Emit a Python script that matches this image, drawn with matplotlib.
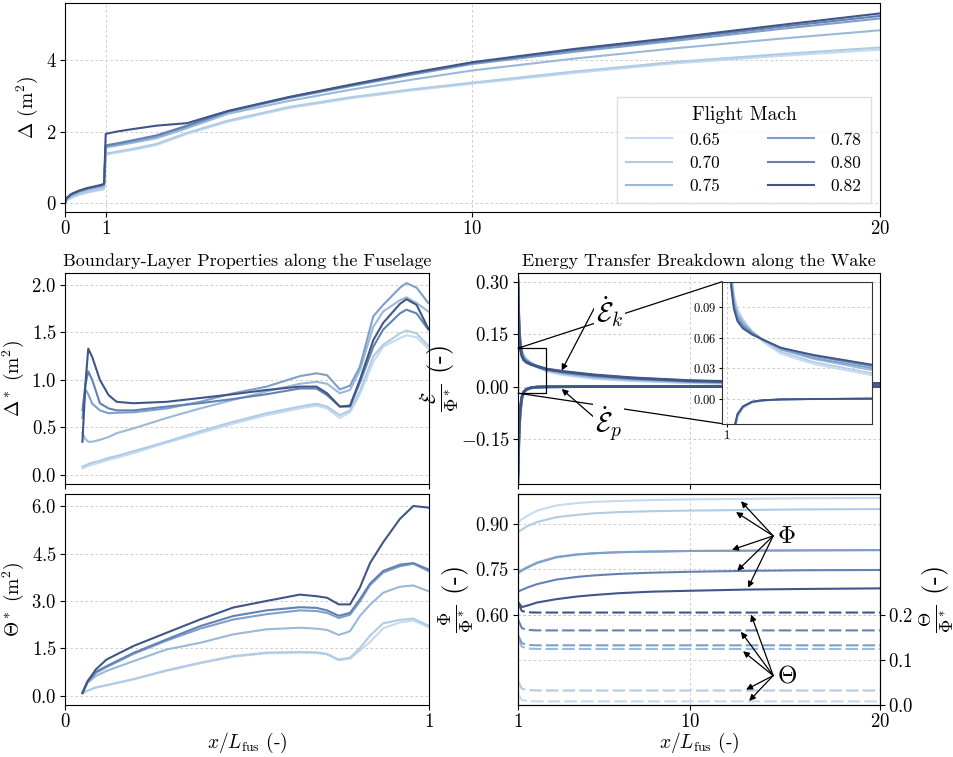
import numpy as np
import matplotlib.pyplot as plt
from matplotlib.patches import Rectangle, ConnectionPatch

plt.rcParams['font.family'] = 'serif'
plt.rcParams['font.serif'] = ['cmr10']
plt.rcParams['mathtext.fontset'] = 'cm'
plt.rcParams['axes.formatter.use_mathtext'] = True
plt.rcParams['axes.unicode_minus'] = True

mach = ['0.65', '0.70', '0.75', '0.78', '0.80', '0.82']
colors = ['#c6dbef', '#b0cce4', '#98b9da', '#7f9fc8', '#6381b3', '#3f5686']

# --- total Delta along fuselage + wake
x_all = [0, 0.03, 0.15, 0.35, 0.55, 0.75, 0.9, 0.96, 1.0, 1.3, 1.7, 2.25, 3.0, 4.0,
         5.5, 7.0, 8.5, 10, 12.5, 15, 17.5, 20]
delta = {
    '0.65': [0, 0.07, 0.15, 0.24, 0.30, 0.35, 0.38, 0.41, 1.36, 1.42, 1.50, 1.63, 1.94, 2.28, 2.66, 2.93, 3.15, 3.34, 3.64, 3.91, 4.11, 4.29],
    '0.70': [0, 0.08, 0.17, 0.26, 0.32, 0.37, 0.40, 0.43, 1.39, 1.45, 1.53, 1.66, 1.97, 2.31, 2.69, 2.96, 3.18, 3.37, 3.68, 3.95, 4.16, 4.35],
    '0.75': [0, 0.10, 0.21, 0.31, 0.38, 0.43, 0.46, 0.49, 1.56, 1.62, 1.70, 1.82, 2.10, 2.50, 2.86, 3.17, 3.45, 3.71, 4.04, 4.33, 4.59, 4.83],
    '0.78': [0, 0.12, 0.24, 0.34, 0.41, 0.46, 0.50, 0.53, 1.59, 1.65, 1.74, 1.87, 2.15, 2.55, 2.94, 3.27, 3.59, 3.89, 4.23, 4.54, 4.86, 5.16],
    '0.80': [0, 0.13, 0.25, 0.35, 0.42, 0.47, 0.51, 0.54, 1.62, 1.68, 1.77, 1.90, 2.17, 2.57, 2.96, 3.29, 3.62, 3.92, 4.28, 4.59, 4.92, 5.23],
    '0.82': [0, 0.14, 0.26, 0.36, 0.43, 0.48, 0.52, 0.55, 1.94, 2.01, 2.08, 2.17, 2.24, 2.58, 2.97, 3.31, 3.64, 3.94, 4.31, 4.63, 4.97, 5.30],
}

# --- boundary layer along fuselage
x_fus = [0.048, 0.056, 0.064, 0.075, 0.096, 0.12, 0.142, 0.188, 0.279, 0.371, 0.462, 0.554,
         0.645, 0.691, 0.72, 0.755, 0.783, 0.81, 0.847, 0.874, 0.92, 0.938, 0.966, 0.998]
delta_star = {
    '0.65': [0.07, 0.08, 0.095, 0.11, 0.13, 0.16, 0.18, 0.23, 0.34, 0.44, 0.54, 0.63, 0.70, 0.73, 0.70, 0.60, 0.66, 0.85, 1.19, 1.35, 1.44, 1.47, 1.45, 1.33],
    '0.70': [0.09, 0.10, 0.115, 0.13, 0.15, 0.18, 0.20, 0.25, 0.35, 0.46, 0.56, 0.65, 0.72, 0.75, 0.72, 0.63, 0.68, 0.88, 1.25, 1.37, 1.49, 1.52, 1.49, 1.36],
    '0.75': [0.44, 0.38, 0.35, 0.35, 0.37, 0.40, 0.44, 0.49, 0.60, 0.70, 0.79, 0.88, 0.96, 0.98, 0.96, 0.86, 0.895, 1.10, 1.56, 1.72, 1.84, 1.87, 1.81, 1.72],
    '0.78': [0.60, 0.90, 0.85, 0.75, 0.68, 0.65, 0.655, 0.66, 0.70, 0.77, 0.86, 0.93, 1.04, 1.07, 1.05, 0.90, 0.94, 1.14, 1.67, 1.79, 1.97, 2.02, 1.97, 1.81],
    '0.80': [0.68, 0.95, 1.09, 1.00, 0.755, 0.70, 0.68, 0.68, 0.72, 0.755, 0.80, 0.85, 0.91, 0.91, 0.84, 0.72, 0.72, 0.97, 1.35, 1.53, 1.70, 1.74, 1.70, 1.53],
    '0.82': [0.35, 0.95, 1.33, 1.24, 1.00, 0.84, 0.77, 0.755, 0.77, 0.81, 0.85, 0.895, 0.93, 0.93, 0.86, 0.72, 0.73, 1.00, 1.42, 1.60, 1.80, 1.85, 1.79, 1.54],
}

x_fus2 = [0.048, 0.062, 0.085, 0.114, 0.188, 0.279, 0.371, 0.462, 0.554, 0.645, 0.691, 0.72,
          0.752, 0.783, 0.81, 0.838, 0.874, 0.92, 0.957, 0.998]
theta_star = {
    '0.65': [0.08, 0.15, 0.25, 0.32, 0.51, 0.78, 1.02, 1.23, 1.34, 1.36, 1.35, 1.30, 1.12, 1.17, 1.42, 1.70, 2.13, 2.32, 2.38, 2.17],
    '0.70': [0.08, 0.16, 0.26, 0.33, 0.52, 0.80, 1.04, 1.25, 1.36, 1.38, 1.37, 1.32, 1.14, 1.20, 1.50, 1.90, 2.29, 2.40, 2.44, 2.22],
    '0.75': [0.08, 0.40, 0.62, 0.78, 1.09, 1.46, 1.67, 1.94, 2.10, 2.15, 2.12, 2.08, 1.92, 2.04, 2.52, 2.88, 3.26, 3.45, 3.49, 3.31],
    '0.78': [0.08, 0.43, 0.72, 0.90, 1.32, 1.74, 2.12, 2.41, 2.58, 2.70, 2.68, 2.62, 2.46, 2.56, 2.98, 3.50, 3.90, 4.10, 4.18, 3.95],
    '0.80': [0.08, 0.45, 0.75, 0.93, 1.35, 1.78, 2.20, 2.52, 2.70, 2.80, 2.78, 2.70, 2.53, 2.62, 3.05, 3.55, 3.95, 4.15, 4.20, 4.00],
    '0.82': [0.08, 0.45, 0.83, 1.14, 1.57, 1.99, 2.41, 2.79, 3.00, 3.20, 3.15, 3.10, 2.89, 2.89, 3.42, 4.20, 4.86, 5.60, 6.01, 5.96],
}

# --- energy transfer in the wake
x_ek = [1.0, 1.03, 1.07, 1.13, 1.2, 1.3, 1.45, 1.7, 2.0, 2.5, 3.4, 5, 7, 10, 14, 20]
e_k = {
    '0.65': [0.32, 0.225, 0.165, 0.128, 0.103, 0.088, 0.078, 0.066, 0.056, 0.044, 0.034, 0.023, 0.017, 0.011, 0.007, 0.005],
    '0.70': [0.315, 0.22, 0.16, 0.124, 0.100, 0.086, 0.077, 0.066, 0.057, 0.046, 0.036, 0.025, 0.018, 0.012, 0.008, 0.005],
    '0.75': [0.31, 0.215, 0.155, 0.120, 0.097, 0.083, 0.075, 0.066, 0.058, 0.048, 0.039, 0.028, 0.021, 0.014, 0.009, 0.006],
    '0.78': [0.305, 0.21, 0.15, 0.116, 0.094, 0.081, 0.073, 0.065, 0.058, 0.049, 0.040, 0.030, 0.022, 0.015, 0.010, 0.007],
    '0.80': [0.30, 0.205, 0.145, 0.112, 0.091, 0.078, 0.071, 0.064, 0.058, 0.050, 0.042, 0.032, 0.024, 0.016, 0.011, 0.008],
    '0.82': [0.30, 0.20, 0.14, 0.108, 0.088, 0.076, 0.069, 0.063, 0.058, 0.050, 0.043, 0.0335, 0.025, 0.017, 0.012, 0.009],
}
x_ep = [1.0, 1.03, 1.07, 1.1, 1.15, 1.2, 1.3, 1.45, 1.7, 2.0, 2.5, 3.5, 5, 20]
e_p = {
    '0.65': [-0.30, -0.20, -0.13, -0.090, -0.060, -0.036, -0.018, -0.009, -0.0038, -0.002, -0.0009, -0.0004, 0.0, 0.0],
    '0.70': [-0.29, -0.19, -0.125, -0.087, -0.058, -0.035, -0.017, -0.0087, -0.0036, -0.0019, -0.0008, -0.0004, 0.0, 0.0],
    '0.75': [-0.28, -0.18, -0.12, -0.084, -0.056, -0.034, -0.017, -0.0083, -0.0034, -0.0018, -0.0008, -0.0003, 0.0, 0.0],
    '0.78': [-0.27, -0.175, -0.117, -0.081, -0.054, -0.033, -0.016, -0.008, -0.0032, -0.0017, -0.0007, -0.0003, 0.0, 0.0],
    '0.80': [-0.26, -0.167, -0.113, -0.078, -0.052, -0.031, -0.0155, -0.0078, -0.0031, -0.0016, -0.0007, -0.0003, 0.0, 0.0],
    '0.82': [-0.25, -0.16, -0.11, -0.075, -0.050, -0.030, -0.015, -0.0075, -0.0030, -0.0015, -0.0007, -0.0003, 0.0, 0.0],
}

# --- Phi and Theta in the wake
x_wk = [1.0, 1.2, 1.5, 2.0, 3.0, 4.1, 5.0, 6.3, 8, 10, 13, 16, 20]
phi = {
    '0.65': [0.906, 0.916, 0.928, 0.945, 0.962, 0.970, 0.974, 0.977, 0.980, 0.982, 0.984, 0.986, 0.987],
    '0.70': [0.874, 0.882, 0.894, 0.907, 0.923, 0.931, 0.936, 0.940, 0.943, 0.945, 0.947, 0.949, 0.950],
    '0.75': [0.741, 0.748, 0.758, 0.773, 0.791, 0.800, 0.804, 0.807, 0.809, 0.811, 0.812, 0.813, 0.814],
    '0.78': [0.738, 0.746, 0.756, 0.771, 0.790, 0.799, 0.803, 0.807, 0.809, 0.811, 0.812, 0.813, 0.814],
    '0.80': [0.676, 0.682, 0.690, 0.701, 0.716, 0.725, 0.730, 0.735, 0.739, 0.742, 0.745, 0.747, 0.748],
    '0.82': [0.642, 0.625, 0.630, 0.640, 0.651, 0.660, 0.665, 0.671, 0.676, 0.679, 0.683, 0.685, 0.687],
}
theta = {
    '0.65': [0.025, 0.011, 0.009, 0.008, 0.008, 0.008, 0.008, 0.008, 0.008, 0.008, 0.008, 0.008, 0.008],
    '0.70': [0.054, 0.036, 0.033, 0.032, 0.032, 0.032, 0.032, 0.032, 0.032, 0.032, 0.032, 0.032, 0.032],
    '0.75': [0.148, 0.129, 0.125, 0.124, 0.124, 0.124, 0.124, 0.124, 0.124, 0.124, 0.124, 0.124, 0.124],
    '0.78': [0.155, 0.137, 0.133, 0.132, 0.132, 0.132, 0.132, 0.132, 0.132, 0.132, 0.132, 0.132, 0.132],
    '0.80': [0.189, 0.170, 0.166, 0.165, 0.165, 0.165, 0.165, 0.165, 0.165, 0.165, 0.165, 0.165, 0.165],
    '0.82': [0.227, 0.208, 0.205, 0.2045, 0.2045, 0.2045, 0.2045, 0.2045, 0.2045, 0.2045, 0.2045, 0.2045, 0.2045],
}

grid_kw = dict(ls=(0, (3, 3)), lw=0.6, color='#c4c4c4')
lw = 1.5
tick_fs = 13.5
lab_fs = 14
frac_fs = 19

fig = plt.figure(figsize=(9.54, 7.57), dpi=100)
ax_top = fig.add_axes([0.0681, 0.7199, 0.8543, 0.2761])
ax_d = fig.add_axes([0.0681, 0.3606, 0.3816, 0.2787])
ax_th = fig.add_axes([0.0681, 0.0687, 0.3816, 0.2787])
ax_e = fig.add_axes([0.5430, 0.3606, 0.3795, 0.2787])
ax_p = fig.add_axes([0.5430, 0.0687, 0.3795, 0.2787])

for ax in [ax_top, ax_d, ax_th, ax_e, ax_p]:
    ax.tick_params(labelsize=tick_fs, pad=2.5)
    ax.grid(True, **grid_kw)
    ax.set_axisbelow(True)

# top panel
for m, c in zip(mach, colors):
    ax_top.plot(x_all, delta[m], color=c, lw=lw, label=m)
ax_top.set_xlim(0, 20)
ax_top.set_ylim(-0.24, 5.59)
ax_top.set_xticks([0, 1, 10, 20])
ax_top.set_yticks([0, 2, 4])
ax_top.set_ylabel(r'$\Delta$ (m$^2$)', fontsize=lab_fs)
leg = ax_top.legend(title='Flight Mach', ncol=2, loc='lower right', fontsize=12.5,
                    title_fontsize=14, frameon=True, fancybox=False,
                    handlelength=2.6, columnspacing=2.8, labelspacing=0.45,
                    borderaxespad=0.5, borderpad=0.55, handletextpad=1.0)
leg.get_frame().set_edgecolor('#d8d8d8')
leg.get_frame().set_linewidth(1.0)

# fuselage panels
for m, c in zip(mach, colors):
    ax_d.plot(x_fus, delta_star[m], color=c, lw=lw)
    ax_th.plot(x_fus2, theta_star[m], color=c, lw=lw)
ax_d.set_xlim(0, 1)
ax_d.set_ylim(-0.095, 2.125)
ax_d.set_xticks([0, 1])
ax_d.set_xticklabels([])
ax_d.set_yticks([0, 0.5, 1.0, 1.5, 2.0])
ax_d.set_ylabel(r'$\Delta^*$ (m$^2$)', fontsize=lab_fs)
ax_d.set_title('Boundary-Layer Properties along the Fuselage', fontsize=13, pad=5)

ax_th.set_xlim(0, 1)
ax_th.set_ylim(-0.3, 6.39)
ax_th.set_xticks([0, 1])
ax_th.set_yticks([0, 1.5, 3.0, 4.5, 6.0])
ax_th.set_ylabel(r'$\Theta^*$ (m$^2$)', fontsize=lab_fs)
ax_th.set_xlabel(r'$x/L_{\mathrm{fus}}$ (-)', fontsize=lab_fs, labelpad=0)

# energy panel
for m, c in zip(mach, colors):
    ax_e.plot(x_ek, e_k[m], color=c, lw=2.0)
    ax_e.plot(x_ep, e_p[m], color=c, lw=2.0)
ax_e.set_xlim(1, 20)
ax_e.set_ylim(-0.28, 0.326)
ax_e.set_xticks([1, 10, 20])
ax_e.set_xticklabels([])
ax_e.set_yticks([-0.15, 0.0, 0.15, 0.30])
ax_e.set_ylabel(r'$\frac{\dot{\mathcal{E}}}{\Phi^*}$ (-)', fontsize=frac_fs, labelpad=0)
ax_e.set_title('Energy Transfer Breakdown along the Wake', fontsize=13, pad=5)

rect = Rectangle((1.0, -0.019), 1.45, 0.129, fill=False, ec='k', lw=0.9, zorder=4)
ax_e.add_patch(rect)

axins = fig.add_axes([0.7571, 0.4403, 0.1566, 0.1876])
for m, c in zip(mach, colors):
    axins.plot(x_ek, e_k[m], color=c, lw=1.3)
    axins.plot(x_ep, e_p[m], color=c, lw=1.3)
axins.set_xlim(0.88, 5.0)
axins.set_ylim(-0.0246, 0.115)
axins.set_xticks([1])
axins.set_yticks([0.0, 0.03, 0.06, 0.09])
axins.tick_params(labelsize=9, length=2.5, pad=1.5)
axins.grid(True, **grid_kw)
for s in axins.spines.values():
    s.set_edgecolor('#333333')

for ya, yb in [(0.110, 1), (-0.019, 0)]:
    con = ConnectionPatch(xyA=(1.0, ya), coordsA=ax_e.transData,
                          xyB=(0, yb), coordsB=axins.transAxes,
                          color='k', lw=0.9, zorder=2)
    ax_e.add_artist(con)

arr = dict(arrowstyle='-|>', color='k', lw=0.9, mutation_scale=9, shrinkA=0, shrinkB=0)
ax_e.annotate('', xy=(3.29, 0.046), xytext=(5.0, 0.225), arrowprops=arr, zorder=5)
ax_e.annotate('', xy=(3.29, -0.007), xytext=(4.94, -0.086), arrowprops=arr, zorder=5)
ax_e.text(5.8, 0.215, r'$\dot{\mathcal{E}}_k$', fontsize=20, ha='center', va='center',
          zorder=6, bbox=dict(fc='white', ec='none', pad=1))
ax_e.text(5.75, -0.108, r'$\dot{\mathcal{E}}_p$', fontsize=20, ha='center', va='center',
          zorder=6, bbox=dict(fc='white', ec='none', pad=1))

# Phi / Theta panel
ax_t = ax_p.twinx()
for m, c in zip(mach, colors):
    ax_p.plot(x_wk, phi[m], color=c, lw=lw)
    ax_t.plot(x_wk, theta[m], color=c, lw=lw, dashes=(6, 2))
ax_p.set_xlim(1, 20)
ax_p.set_ylim(0.30, 1.00)
ax_p.set_xticks([1, 10, 20])
ax_p.set_yticks([0.60, 0.75, 0.90])
ax_p.set_ylabel(r'$\frac{\Phi}{\Phi^*}$ (-)', fontsize=frac_fs, labelpad=0)
ax_p.set_xlabel(r'$x/L_{\mathrm{fus}}$ (-)', fontsize=lab_fs, labelpad=0)
ax_t.set_ylim(0.0, 0.4667)
ax_t.set_yticks([0.0, 0.1, 0.2])
ax_t.tick_params(labelsize=tick_fs, pad=2.5)
ax_t.grid(True, axis='y', **grid_kw)
ax_t.set_ylabel(r'$\frac{\Theta}{\Phi^*}$ (-)', fontsize=frac_fs, labelpad=2)

phi_tips = [(12.7, 0.976), (12.44, 0.94), (12.23, 0.815), (12.5, 0.745), (13.07, 0.689)]
for tip in phi_tips:
    ax_p.annotate('', xy=tip, xytext=(14.39, 0.861), arrowprops=arr)
ax_p.text(14.6, 0.858, r'$\Phi$', fontsize=18, ha='left', va='center')

theta_tips = [(13.23, 0.2), (12.7, 0.162), (12.81, 0.119), (12.97, 0.034), (13.13, 0.009)]
for tip in theta_tips:
    ax_t.annotate('', xy=tip, xytext=(14.39, 0.065), arrowprops=arr)
ax_t.text(14.6, 0.063, r'$\Theta$', fontsize=18, ha='left', va='center')

fig.savefig('out.png', dpi=100)
